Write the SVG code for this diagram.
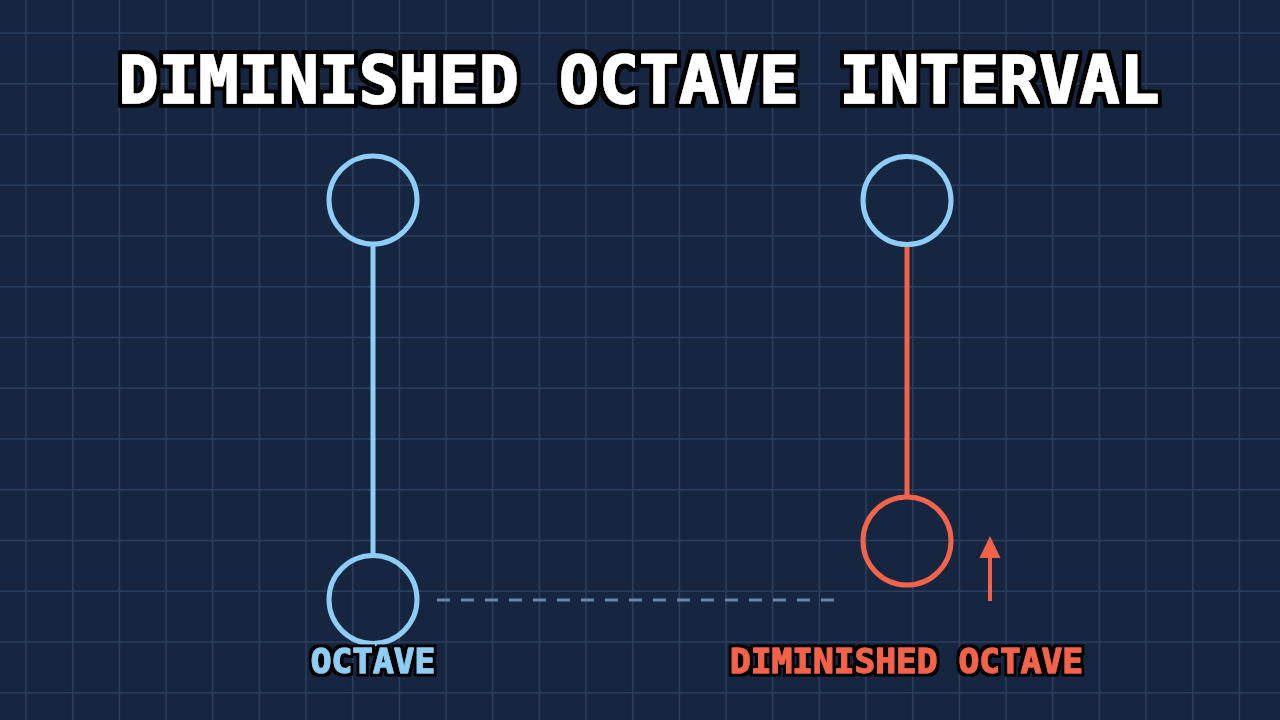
<svg xmlns="http://www.w3.org/2000/svg" width="1280" height="720" viewBox="0 0 1280 720">
<defs>
<style>
.grid{stroke:#2a3f5e;stroke-width:1.6;fill:none}
.blue{stroke:#8ecdf6;stroke-width:5;fill:none}
.red{stroke:#f2634a;stroke-width:5;fill:none}
.title{font-family:"DejaVu Sans Mono","Liberation Mono",monospace;font-weight:bold;font-size:66.5px;fill:#ffffff;stroke:#ffffff;stroke-width:1.6;stroke-linejoin:round;text-anchor:middle;filter:url(#outlineBig)}
.label{font-family:"DejaVu Sans Mono","Liberation Mono",monospace;font-weight:bold;font-size:34.5px;stroke-width:1;stroke-linejoin:round;text-anchor:middle;filter:url(#outlineSmall)}
</style>
<filter id="outlineBig" x="-5%" y="-30%" width="110%" height="160%">
<feMorphology in="SourceAlpha" operator="dilate" radius="3.5" result="d"/>
<feFlood flood-color="#000000"/>
<feComposite in2="d" operator="in" result="o"/>
<feMerge><feMergeNode in="o"/><feMergeNode in="SourceGraphic"/></feMerge>
</filter>
<filter id="outlineSmall" x="-10%" y="-30%" width="120%" height="160%">
<feMorphology in="SourceAlpha" operator="dilate" radius="2.5" result="d"/>
<feFlood flood-color="#000000"/>
<feComposite in2="d" operator="in" result="o"/>
<feMerge><feMergeNode in="o"/><feMergeNode in="SourceGraphic"/></feMerge>
</filter>
</defs>
<rect width="1280" height="720" fill="#172640"/>
<path class="grid" d="M26 0V720M72.67 0V720M119.33 0V720M166 0V720M212.67 0V720M259.33 0V720M306 0V720M352.67 0V720M399.33 0V720M446 0V720M492.67 0V720M539.33 0V720M586 0V720M632.67 0V720M679.33 0V720M726 0V720M772.67 0V720M819.33 0V720M866 0V720M912.67 0V720M959.33 0V720M1006 0V720M1052.67 0V720M1099.33 0V720M1146 0V720M1192.67 0V720M1239.33 0V720
M0 33H1280M0 83.75H1280M0 134.5H1280M0 185.25H1280M0 236H1280M0 286.75H1280M0 337.5H1280M0 388.25H1280M0 439H1280M0 489.75H1280M0 540.5H1280M0 591.25H1280M0 642H1280M0 692.75H1280"/>
<text class="title" x="639" y="103">DIMINISHED OCTAVE INTERVAL</text>
<g id="connectors">
<line class="blue" x1="373" y1="245" x2="373" y2="555" stroke-width="4"/>
<line class="red" x1="907" y1="246" x2="907" y2="496" stroke-width="4"/>
<line x1="437" y1="600" x2="836" y2="600" stroke="#6289ab" stroke-width="2.8" stroke-dasharray="13 11"/>
<g id="arrow">
<line x1="990" y1="601" x2="990" y2="555" stroke="#f2634a" stroke-width="4"/>
<polygon points="990,536 1000.5,558 979.5,558" fill="#f2634a"/>
</g>
</g>
<g id="octave-top"><circle class="blue" cx="373" cy="200" r="44"/></g>
<g id="octave-bottom"><circle class="blue" cx="373" cy="599.5" r="44"/></g>
<g id="dim-top"><circle class="blue" cx="907" cy="200.5" r="44"/></g>
<g id="dim-bottom"><circle class="red" cx="907" cy="541" r="44"/></g>
<g id="label-octave"><text class="label" x="373" y="673" fill="#8ecdf6" stroke="#8ecdf6">OCTAVE</text></g>
<g id="label-dim"><text class="label" x="906.5" y="673" fill="#f2634a" stroke="#f2634a">DIMINISHED OCTAVE</text></g>
</svg>
